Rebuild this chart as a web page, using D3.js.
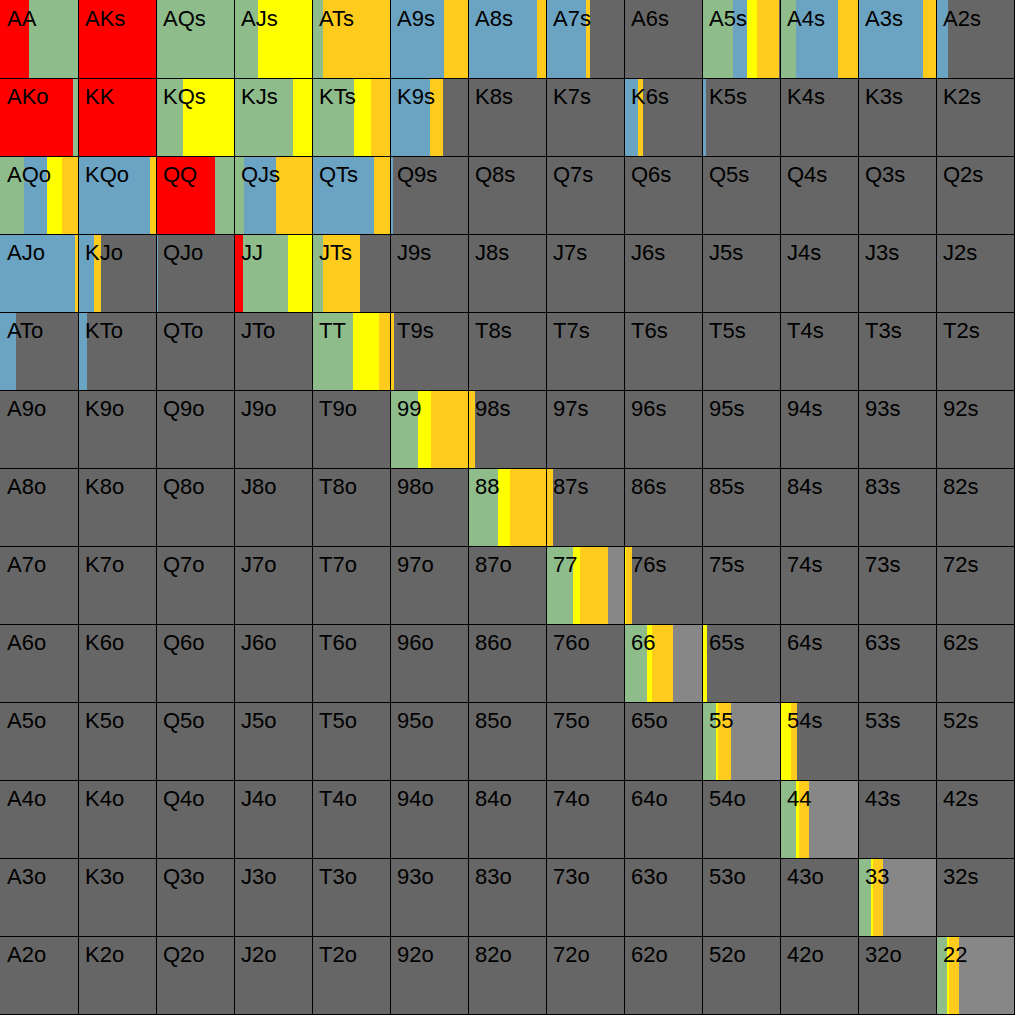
<!DOCTYPE html>
<html>
<head>
<meta charset="utf-8">
<script src="https://cdn.jsdelivr.net/npm/d3@7"></script>
<style>
  html, body { margin: 0; padding: 0; background: #ffffff; }
  svg { display: block; }
</style>
</head>
<body>
<svg id="chart" width="1024" height="1024"></svg>
<script>
// ---- data ----
const ranks = ["A","K","Q","J","T","9","8","7","6","5","4","3","2"];

const allIn = [["AA",0.37],["AKs",1],["AKo",0.93],["KK",1],["QQ",0.75],["JJ",0.11]];
const raise = [["AA",0.63],["AQs",1],["AJs",0.31],["ATs",0.145],["A5s",0.40],["A4s",0.21],
  ["AKo",0.07],["KQs",0.34],["KJs",0.75],["KTs",0.54],["AQo",0.31],["QQ",0.25],["QJs",0.13],
  ["JJ",0.58],["JTs",0.145],["TT",0.53],["99",0.36],["88",0.38],["77",0.34],["66",0.30],
  ["55",0.185],["44",0.20],["33",0.17],["22",0.137]];
const call = [["A9s",0.69],["A8s",0.89],["A7s",0.51],["A5s",0.18],["A4s",0.53],["A3s",0.83],
  ["A2s",0.15],["K9s",0.51],["K6s",0.18],["K5s",0.05],["AQo",0.29],["KQo",0.92],["QJs",0.41],
  ["QTs",0.80],["Q9s",0.04],["AJo",0.96],["KJo",0.21],["QJo",0.03],["ATo",0.20],["KTo",0.12]];
const raiseSmall = [["AJs",0.69],["A5s",0.13],["KQs",0.66],["KJs",0.25],["KTs",0.22],["AQo",0.19],
  ["JJ",0.31],["TT",0.33],["99",0.17],["88",0.155],["77",0.09],["76s",0.025],["66",0.065],
  ["65s",0.06],["55",0.017],["54s",0.137],["44",0.04],["33",0.026],["22",0.034]];
const limp = [["ATs",0.855],["A9s",0.31],["A8s",0.11],["A7s",0.05],["A5s",0.28],["A4s",0.26],
  ["A3s",0.17],["KTs",0.24],["K9s",0.17],["K6s",0.065],["AQo",0.21],["KQo",0.08],["QJs",0.46],
  ["QTs",0.20],["AJo",0.04],["KJo",0.09],["JTs",0.47],["TT",0.14],["T9s",0.05],["99",0.47],
  ["98s",0.085],["88",0.465],["87s",0.085],["77",0.36],["76s",0.075],["66",0.26],["55",0.175],
  ["54s",0.077],["44",0.13],["33",0.13],["22",0.13]];
const check = [["77",0.21],["66",0.375],["55",0.623],["44",0.63],["33",0.674],["22",0.699]];

const seriesKeys = ["allIn","raise","call","raiseSmall","limp","check","fold"];
const seriesColors = {
  allIn: "#ff0000", raise: "#8fbc8b", call: "#6ba3c2", raiseSmall: "#ffff00",
  limp: "#ffcb1c", check: "#878787", fold: "#666666"
};

// ---- build table ----
const sources = {allIn, raise, call, raiseSmall, limp, check};
const rows = [];
ranks.forEach((r1, i) => {
  ranks.forEach((r2, j) => {
    let name;
    if (i === j) name = r1 + r2;
    else if (j > i) name = r1 + r2 + "s";
    else name = r2 + r1 + "o";
    const row = {hand: name, row: r1, col: r2};
    let sum = 0;
    for (const k of Object.keys(sources)) {
      const f = sources[k].find(d => d[0] === name);
      row[k] = f ? f[1] : 0;
      sum += row[k];
    }
    row.fold = Math.max(0, 1 - sum);
    rows.push(row);
  });
});

const stacked = d3.stack().keys(seriesKeys)(rows);

// ---- scales ----
const grid = d3.scaleBand().domain(ranks).range([0, 1014]).paddingInner(0).paddingOuter(0);
const cw = grid.bandwidth();
const frac = d3.scaleLinear().domain([0, 1]).range([0, cw]);

const svg = d3.select("#chart");
svg.append("rect").attr("width", 1024).attr("height", 1024).attr("fill", "#ffffff");

const gSeg = svg.append("g");
stacked.forEach(layer => {
  gSeg.append("g")
    .attr("fill", seriesColors[layer.key])
    .selectAll("rect")
    .data(layer.filter(d => d[1] - d[0] > 0))
    .join("rect")
    .attr("x", d => grid(d.data.col) + frac(d[0]))
    .attr("y", d => grid(d.data.row))
    .attr("width", d => frac(d[1]) - frac(d[0]))
    .attr("height", cw)
    .attr("shape-rendering", "crispEdges");
});

// labels
svg.append("g")
  .selectAll("text")
  .data(rows)
  .join("text")
  .attr("x", d => grid(d.col) + 7)
  .attr("y", d => grid(d.row) + 26)
  .attr("font-family", "'Liberation Sans', Arial, sans-serif")
  .attr("font-size", 22)
  .attr("fill", "#000000")
  .text(d => d.hand);

// grid lines
const lines = svg.append("g").attr("stroke", "#000000").attr("stroke-width", 1)
  .attr("shape-rendering", "crispEdges");
ranks.forEach(r => {
  const p = grid(r) + cw + 0.5;
  lines.append("line").attr("x1", p).attr("x2", p).attr("y1", 0).attr("y2", 1015);
  lines.append("line").attr("y1", p).attr("y2", p).attr("x1", 0).attr("x2", 1015);
});
</script>
</body>
</html>
